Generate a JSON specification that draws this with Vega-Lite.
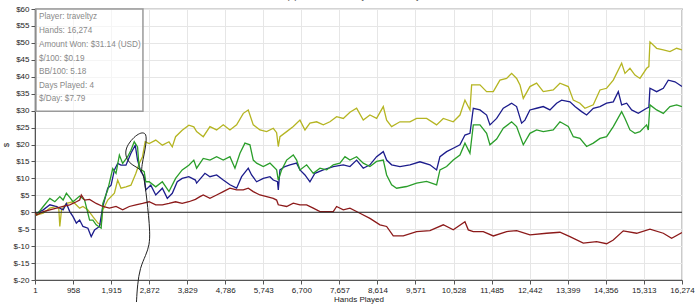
{
  "$schema": "https://vega.github.io/schema/vega-lite/v6.json",
  "width": 647,
  "height": 271,
  "autosize": {"type": "none"},
  "padding": {"left": 35, "top": 9, "right": 18, "bottom": 27},
  "background": "white",
  "title": {"text": "Amount Won ($) over Hands Played for traveltyz", "fontSize": 9, "font": "Liberation Sans", "fontWeight": "normal", "color": "#444", "offset": 4, "dx": -30},
  "config": {
    "view": {"stroke": "#555", "strokeWidth": 1.2},
    "axis": {
      "labelFont": "Liberation Sans", "labelFontSize": 8, "labelColor": "#222",
      "titleFont": "Liberation Sans", "titleFontSize": 8, "titleFontWeight": "normal", "titleColor": "#222",
      "gridColor": "#e6e6e6", "gridWidth": 1, "domainColor": "#555", "tickColor": "#555", "tickSize": 4, "labelPadding": 2
    }
  },
  "datasets": {
    "series": [
      {"s": "yellow", "h": 1, "v": 0}, {"s": "yellow", "h": 43, "v": -0.8}, {"s": "yellow", "h": 209, "v": -0.3}, {"s": "yellow", "h": 375, "v": 1.2}, {"s": "yellow", "h": 542, "v": 1.7}, {"s": "yellow", "h": 600, "v": 1.0}, {"s": "yellow", "h": 625, "v": -4.2}, {"s": "yellow", "h": 667, "v": 0.7}, {"s": "yellow", "h": 791, "v": 2.6}, {"s": "yellow", "h": 958, "v": 3.1}, {"s": "yellow", "h": 1124, "v": 1.2}, {"s": "yellow", "h": 1207, "v": 1.7}, {"s": "yellow", "h": 1332, "v": 0.7}, {"s": "yellow", "h": 1457, "v": -1.3}, {"s": "yellow", "h": 1582, "v": -3.2}, {"s": "yellow", "h": 1665, "v": -3.7}, {"s": "yellow", "h": 1707, "v": 0.7}, {"s": "yellow", "h": 1831, "v": 3.6}, {"s": "yellow", "h": 1998, "v": 5.6}, {"s": "yellow", "h": 2081, "v": 9.5}, {"s": "yellow", "h": 2164, "v": 7.1}, {"s": "yellow", "h": 2289, "v": 7.5}, {"s": "yellow", "h": 2414, "v": 8.0}, {"s": "yellow", "h": 2539, "v": 11.5}, {"s": "yellow", "h": 2622, "v": 14.4}, {"s": "yellow", "h": 2705, "v": 16.4}, {"s": "yellow", "h": 2772, "v": 20.8}, {"s": "yellow", "h": 2872, "v": 20.3}, {"s": "yellow", "h": 3038, "v": 21.3}, {"s": "yellow", "h": 3204, "v": 19.8}, {"s": "yellow", "h": 3371, "v": 20.8}, {"s": "yellow", "h": 3454, "v": 19.3}, {"s": "yellow", "h": 3537, "v": 22.3}, {"s": "yellow", "h": 3703, "v": 24.2}, {"s": "yellow", "h": 3870, "v": 25.7}, {"s": "yellow", "h": 3995, "v": 25.2}, {"s": "yellow", "h": 4066, "v": 23.8}, {"s": "yellow", "h": 4233, "v": 22.3}, {"s": "yellow", "h": 4401, "v": 25.3}, {"s": "yellow", "h": 4569, "v": 24.3}, {"s": "yellow", "h": 4736, "v": 25.8}, {"s": "yellow", "h": 4904, "v": 24.3}, {"s": "yellow", "h": 5072, "v": 25.8}, {"s": "yellow", "h": 5240, "v": 29.2}, {"s": "yellow", "h": 5365, "v": 30.2}, {"s": "yellow", "h": 5491, "v": 25.8}, {"s": "yellow", "h": 5659, "v": 24.3}, {"s": "yellow", "h": 5827, "v": 23.8}, {"s": "yellow", "h": 5994, "v": 24.8}, {"s": "yellow", "h": 6078, "v": 23.5}, {"s": "yellow", "h": 6120, "v": 19.4}, {"s": "yellow", "h": 6162, "v": 22.3}, {"s": "yellow", "h": 6330, "v": 23.8}, {"s": "yellow", "h": 6497, "v": 25.3}, {"s": "yellow", "h": 6665, "v": 27.2}, {"s": "yellow", "h": 6791, "v": 24.3}, {"s": "yellow", "h": 6916, "v": 26.3}, {"s": "yellow", "h": 7084, "v": 26.7}, {"s": "yellow", "h": 7252, "v": 25.8}, {"s": "yellow", "h": 7419, "v": 26.7}, {"s": "yellow", "h": 7587, "v": 28.2}, {"s": "yellow", "h": 7755, "v": 27.7}, {"s": "yellow", "h": 7922, "v": 29.5}, {"s": "yellow", "h": 8090, "v": 30.7}, {"s": "yellow", "h": 8257, "v": 27.2}, {"s": "yellow", "h": 8425, "v": 28.7}, {"s": "yellow", "h": 8593, "v": 27.7}, {"s": "yellow", "h": 8761, "v": 31.2}, {"s": "yellow", "h": 8845, "v": 27.2}, {"s": "yellow", "h": 8970, "v": 25.3}, {"s": "yellow", "h": 9180, "v": 26.7}, {"s": "yellow", "h": 9431, "v": 26.7}, {"s": "yellow", "h": 9599, "v": 27.7}, {"s": "yellow", "h": 9851, "v": 27.7}, {"s": "yellow", "h": 10102, "v": 25.8}, {"s": "yellow", "h": 10270, "v": 27.7}, {"s": "yellow", "h": 10521, "v": 26.7}, {"s": "yellow", "h": 10689, "v": 28.7}, {"s": "yellow", "h": 10815, "v": 33.1}, {"s": "yellow", "h": 10941, "v": 30.2}, {"s": "yellow", "h": 10983, "v": 37.6}, {"s": "yellow", "h": 11192, "v": 37.6}, {"s": "yellow", "h": 11360, "v": 35.6}, {"s": "yellow", "h": 11528, "v": 35.6}, {"s": "yellow", "h": 11695, "v": 39.0}, {"s": "yellow", "h": 11863, "v": 39.5}, {"s": "yellow", "h": 11989, "v": 41.0}, {"s": "yellow", "h": 12115, "v": 39.5}, {"s": "yellow", "h": 12199, "v": 37.6}, {"s": "yellow", "h": 12282, "v": 33.6}, {"s": "yellow", "h": 12449, "v": 37.1}, {"s": "yellow", "h": 12617, "v": 38.1}, {"s": "yellow", "h": 12785, "v": 35.6}, {"s": "yellow", "h": 13036, "v": 36.1}, {"s": "yellow", "h": 13204, "v": 38.1}, {"s": "yellow", "h": 13414, "v": 37.1}, {"s": "yellow", "h": 13540, "v": 33.1}, {"s": "yellow", "h": 13707, "v": 32.2}, {"s": "yellow", "h": 13833, "v": 30.7}, {"s": "yellow", "h": 14043, "v": 31.7}, {"s": "yellow", "h": 14211, "v": 36.1}, {"s": "yellow", "h": 14378, "v": 36.6}, {"s": "yellow", "h": 14546, "v": 39.0}, {"s": "yellow", "h": 14756, "v": 44.0}, {"s": "yellow", "h": 14840, "v": 41.0}, {"s": "yellow", "h": 14965, "v": 42.5}, {"s": "yellow", "h": 15091, "v": 40.5}, {"s": "yellow", "h": 15217, "v": 39.5}, {"s": "yellow", "h": 15384, "v": 42.5}, {"s": "yellow", "h": 15440, "v": 43.0}, {"s": "yellow", "h": 15468, "v": 50.3}, {"s": "yellow", "h": 15636, "v": 48.4}, {"s": "yellow", "h": 15804, "v": 47.9}, {"s": "yellow", "h": 15971, "v": 47.4}, {"s": "yellow", "h": 16139, "v": 48.4}, {"s": "yellow", "h": 16274, "v": 47.9},

      {"s": "blue", "h": 1, "v": 0}, {"s": "blue", "h": 43, "v": -0.3}, {"s": "blue", "h": 209, "v": 0.7}, {"s": "blue", "h": 375, "v": 2.2}, {"s": "blue", "h": 542, "v": 1.7}, {"s": "blue", "h": 708, "v": 0.7}, {"s": "blue", "h": 791, "v": 2.6}, {"s": "blue", "h": 875, "v": 0.2}, {"s": "blue", "h": 958, "v": -1.3}, {"s": "blue", "h": 1041, "v": -3.2}, {"s": "blue", "h": 1124, "v": -2.3}, {"s": "blue", "h": 1207, "v": -4.2}, {"s": "blue", "h": 1332, "v": -4.7}, {"s": "blue", "h": 1415, "v": -7.2}, {"s": "blue", "h": 1499, "v": -5.2}, {"s": "blue", "h": 1623, "v": -4.2}, {"s": "blue", "h": 1707, "v": 1.7}, {"s": "blue", "h": 1831, "v": 7.1}, {"s": "blue", "h": 1915, "v": 8.0}, {"s": "blue", "h": 1998, "v": 12.5}, {"s": "blue", "h": 2081, "v": 14.4}, {"s": "blue", "h": 2164, "v": 13.9}, {"s": "blue", "h": 2289, "v": 13.9}, {"s": "blue", "h": 2414, "v": 17.4}, {"s": "blue", "h": 2522, "v": 19.8}, {"s": "blue", "h": 2580, "v": 15.4}, {"s": "blue", "h": 2663, "v": 12.0}, {"s": "blue", "h": 2747, "v": 10.5}, {"s": "blue", "h": 2788, "v": 6.6}, {"s": "blue", "h": 2913, "v": 8.0}, {"s": "blue", "h": 3038, "v": 5.1}, {"s": "blue", "h": 3204, "v": 7.1}, {"s": "blue", "h": 3329, "v": 4.1}, {"s": "blue", "h": 3454, "v": 5.6}, {"s": "blue", "h": 3579, "v": 9.0}, {"s": "blue", "h": 3703, "v": 10.0}, {"s": "blue", "h": 3870, "v": 10.5}, {"s": "blue", "h": 4036, "v": 9.5}, {"s": "blue", "h": 4066, "v": 8.6}, {"s": "blue", "h": 4275, "v": 11.5}, {"s": "blue", "h": 4401, "v": 10.5}, {"s": "blue", "h": 4569, "v": 11.0}, {"s": "blue", "h": 4736, "v": 9.5}, {"s": "blue", "h": 4904, "v": 8.1}, {"s": "blue", "h": 5072, "v": 7.1}, {"s": "blue", "h": 5198, "v": 10.5}, {"s": "blue", "h": 5365, "v": 13.0}, {"s": "blue", "h": 5449, "v": 11.0}, {"s": "blue", "h": 5575, "v": 9.0}, {"s": "blue", "h": 5743, "v": 10.0}, {"s": "blue", "h": 5910, "v": 10.5}, {"s": "blue", "h": 5994, "v": 9.5}, {"s": "blue", "h": 6100, "v": 9.0}, {"s": "blue", "h": 6120, "v": 6.6}, {"s": "blue", "h": 6162, "v": 12.5}, {"s": "blue", "h": 6288, "v": 13.5}, {"s": "blue", "h": 6413, "v": 14.0}, {"s": "blue", "h": 6581, "v": 14.5}, {"s": "blue", "h": 6665, "v": 12.5}, {"s": "blue", "h": 6791, "v": 11.0}, {"s": "blue", "h": 6916, "v": 9.0}, {"s": "blue", "h": 7042, "v": 11.5}, {"s": "blue", "h": 7252, "v": 12.5}, {"s": "blue", "h": 7503, "v": 13.5}, {"s": "blue", "h": 7755, "v": 14.0}, {"s": "blue", "h": 7922, "v": 13.5}, {"s": "blue", "h": 8090, "v": 15.4}, {"s": "blue", "h": 8257, "v": 13.0}, {"s": "blue", "h": 8425, "v": 14.0}, {"s": "blue", "h": 8593, "v": 16.4}, {"s": "blue", "h": 8761, "v": 17.9}, {"s": "blue", "h": 8845, "v": 15.4}, {"s": "blue", "h": 8970, "v": 14.0}, {"s": "blue", "h": 9180, "v": 13.5}, {"s": "blue", "h": 9431, "v": 14.0}, {"s": "blue", "h": 9683, "v": 14.9}, {"s": "blue", "h": 9934, "v": 14.0}, {"s": "blue", "h": 10102, "v": 12.5}, {"s": "blue", "h": 10186, "v": 16.4}, {"s": "blue", "h": 10354, "v": 17.9}, {"s": "blue", "h": 10521, "v": 18.9}, {"s": "blue", "h": 10689, "v": 19.9}, {"s": "blue", "h": 10815, "v": 22.8}, {"s": "blue", "h": 10941, "v": 23.3}, {"s": "blue", "h": 11025, "v": 30.7}, {"s": "blue", "h": 11192, "v": 30.2}, {"s": "blue", "h": 11360, "v": 28.7}, {"s": "blue", "h": 11444, "v": 25.8}, {"s": "blue", "h": 11612, "v": 27.7}, {"s": "blue", "h": 11779, "v": 30.7}, {"s": "blue", "h": 11989, "v": 32.2}, {"s": "blue", "h": 12114, "v": 31.2}, {"s": "blue", "h": 12240, "v": 26.3}, {"s": "blue", "h": 12323, "v": 27.2}, {"s": "blue", "h": 12449, "v": 30.2}, {"s": "blue", "h": 12617, "v": 30.7}, {"s": "blue", "h": 12785, "v": 31.2}, {"s": "blue", "h": 12953, "v": 30.2}, {"s": "blue", "h": 13120, "v": 32.2}, {"s": "blue", "h": 13246, "v": 33.1}, {"s": "blue", "h": 13456, "v": 32.6}, {"s": "blue", "h": 13582, "v": 31.2}, {"s": "blue", "h": 13749, "v": 29.7}, {"s": "blue", "h": 13875, "v": 28.7}, {"s": "blue", "h": 14043, "v": 30.7}, {"s": "blue", "h": 14211, "v": 31.2}, {"s": "blue", "h": 14378, "v": 32.2}, {"s": "blue", "h": 14546, "v": 32.6}, {"s": "blue", "h": 14672, "v": 35.6}, {"s": "blue", "h": 14756, "v": 31.7}, {"s": "blue", "h": 14882, "v": 32.2}, {"s": "blue", "h": 15007, "v": 30.2}, {"s": "blue", "h": 15175, "v": 29.2}, {"s": "blue", "h": 15384, "v": 30.7}, {"s": "blue", "h": 15440, "v": 31.0}, {"s": "blue", "h": 15468, "v": 36.6}, {"s": "blue", "h": 15636, "v": 35.6}, {"s": "blue", "h": 15804, "v": 36.6}, {"s": "blue", "h": 15929, "v": 39.0}, {"s": "blue", "h": 16097, "v": 38.5}, {"s": "blue", "h": 16274, "v": 37.1},

      {"s": "green", "h": 1, "v": 0}, {"s": "green", "h": 43, "v": -0.8}, {"s": "green", "h": 209, "v": 1.7}, {"s": "green", "h": 375, "v": 4.1}, {"s": "green", "h": 500, "v": 3.1}, {"s": "green", "h": 625, "v": 4.6}, {"s": "green", "h": 708, "v": 3.6}, {"s": "green", "h": 791, "v": 5.6}, {"s": "green", "h": 875, "v": 4.4}, {"s": "green", "h": 958, "v": 3.1}, {"s": "green", "h": 1124, "v": 4.8}, {"s": "green", "h": 1249, "v": 3.6}, {"s": "green", "h": 1374, "v": -2.3}, {"s": "green", "h": 1457, "v": -2.3}, {"s": "green", "h": 1540, "v": -3.7}, {"s": "green", "h": 1665, "v": -4.7}, {"s": "green", "h": 1707, "v": 2.6}, {"s": "green", "h": 1831, "v": 6.6}, {"s": "green", "h": 1956, "v": 12.9}, {"s": "green", "h": 2039, "v": 11.5}, {"s": "green", "h": 2123, "v": 16.9}, {"s": "green", "h": 2206, "v": 14.4}, {"s": "green", "h": 2331, "v": 16.4}, {"s": "green", "h": 2414, "v": 18.3}, {"s": "green", "h": 2497, "v": 20.8}, {"s": "green", "h": 2580, "v": 19.3}, {"s": "green", "h": 2622, "v": 12.9}, {"s": "green", "h": 2747, "v": 12.0}, {"s": "green", "h": 2788, "v": 9.0}, {"s": "green", "h": 2872, "v": 9.0}, {"s": "green", "h": 3038, "v": 7.5}, {"s": "green", "h": 3204, "v": 9.0}, {"s": "green", "h": 3371, "v": 6.1}, {"s": "green", "h": 3537, "v": 10.0}, {"s": "green", "h": 3703, "v": 12.5}, {"s": "green", "h": 3870, "v": 13.9}, {"s": "green", "h": 3995, "v": 15.4}, {"s": "green", "h": 4066, "v": 13.0}, {"s": "green", "h": 4233, "v": 15.9}, {"s": "green", "h": 4401, "v": 15.4}, {"s": "green", "h": 4569, "v": 16.4}, {"s": "green", "h": 4736, "v": 15.4}, {"s": "green", "h": 4904, "v": 16.4}, {"s": "green", "h": 5030, "v": 13.0}, {"s": "green", "h": 5156, "v": 17.4}, {"s": "green", "h": 5281, "v": 20.4}, {"s": "green", "h": 5407, "v": 19.9}, {"s": "green", "h": 5491, "v": 15.4}, {"s": "green", "h": 5575, "v": 14.5}, {"s": "green", "h": 5743, "v": 13.5}, {"s": "green", "h": 5910, "v": 14.5}, {"s": "green", "h": 6078, "v": 12.5}, {"s": "green", "h": 6120, "v": 9.5}, {"s": "green", "h": 6204, "v": 12.5}, {"s": "green", "h": 6330, "v": 15.4}, {"s": "green", "h": 6497, "v": 16.9}, {"s": "green", "h": 6581, "v": 15.4}, {"s": "green", "h": 6665, "v": 12.5}, {"s": "green", "h": 6833, "v": 14.0}, {"s": "green", "h": 7000, "v": 11.5}, {"s": "green", "h": 7168, "v": 13.0}, {"s": "green", "h": 7336, "v": 12.5}, {"s": "green", "h": 7503, "v": 14.0}, {"s": "green", "h": 7671, "v": 14.5}, {"s": "green", "h": 7797, "v": 16.4}, {"s": "green", "h": 7922, "v": 15.4}, {"s": "green", "h": 8090, "v": 16.4}, {"s": "green", "h": 8257, "v": 14.5}, {"s": "green", "h": 8425, "v": 13.5}, {"s": "green", "h": 8593, "v": 15.0}, {"s": "green", "h": 8761, "v": 15.4}, {"s": "green", "h": 8845, "v": 11.0}, {"s": "green", "h": 8970, "v": 8.1}, {"s": "green", "h": 9096, "v": 7.1}, {"s": "green", "h": 9347, "v": 7.6}, {"s": "green", "h": 9599, "v": 8.6}, {"s": "green", "h": 9851, "v": 9.1}, {"s": "green", "h": 10102, "v": 8.1}, {"s": "green", "h": 10186, "v": 12.5}, {"s": "green", "h": 10354, "v": 13.5}, {"s": "green", "h": 10521, "v": 15.4}, {"s": "green", "h": 10689, "v": 16.9}, {"s": "green", "h": 10815, "v": 20.4}, {"s": "green", "h": 10941, "v": 17.4}, {"s": "green", "h": 11025, "v": 25.8}, {"s": "green", "h": 11192, "v": 25.8}, {"s": "green", "h": 11360, "v": 23.3}, {"s": "green", "h": 11444, "v": 19.9}, {"s": "green", "h": 11612, "v": 21.6}, {"s": "green", "h": 11779, "v": 24.8}, {"s": "green", "h": 11989, "v": 26.7}, {"s": "green", "h": 12114, "v": 25.3}, {"s": "green", "h": 12282, "v": 19.9}, {"s": "green", "h": 12449, "v": 23.3}, {"s": "green", "h": 12617, "v": 24.3}, {"s": "green", "h": 12785, "v": 23.8}, {"s": "green", "h": 13036, "v": 24.3}, {"s": "green", "h": 13204, "v": 26.7}, {"s": "green", "h": 13414, "v": 25.3}, {"s": "green", "h": 13540, "v": 22.3}, {"s": "green", "h": 13707, "v": 21.8}, {"s": "green", "h": 13875, "v": 19.4}, {"s": "green", "h": 14043, "v": 20.4}, {"s": "green", "h": 14211, "v": 21.8}, {"s": "green", "h": 14378, "v": 22.3}, {"s": "green", "h": 14546, "v": 25.3}, {"s": "green", "h": 14756, "v": 29.7}, {"s": "green", "h": 14840, "v": 27.7}, {"s": "green", "h": 14965, "v": 24.3}, {"s": "green", "h": 15091, "v": 23.3}, {"s": "green", "h": 15217, "v": 23.8}, {"s": "green", "h": 15384, "v": 25.8}, {"s": "green", "h": 15426, "v": 24.3}, {"s": "green", "h": 15468, "v": 31.7}, {"s": "green", "h": 15636, "v": 30.2}, {"s": "green", "h": 15804, "v": 29.2}, {"s": "green", "h": 15971, "v": 31.2}, {"s": "green", "h": 16139, "v": 31.7}, {"s": "green", "h": 16274, "v": 31.2},

      {"s": "red", "h": 1, "v": 0}, {"s": "red", "h": 43, "v": -0.8}, {"s": "red", "h": 209, "v": 0.2}, {"s": "red", "h": 375, "v": 0.7}, {"s": "red", "h": 542, "v": 1.2}, {"s": "red", "h": 708, "v": 1.7}, {"s": "red", "h": 875, "v": 2.2}, {"s": "red", "h": 1041, "v": 3.1}, {"s": "red", "h": 1124, "v": 3.6}, {"s": "red", "h": 1166, "v": 5.1}, {"s": "red", "h": 1249, "v": 3.6}, {"s": "red", "h": 1374, "v": 3.8}, {"s": "red", "h": 1540, "v": 2.6}, {"s": "red", "h": 1707, "v": 1.7}, {"s": "red", "h": 1873, "v": 1.2}, {"s": "red", "h": 2039, "v": 1.7}, {"s": "red", "h": 2206, "v": 0.7}, {"s": "red", "h": 2372, "v": 1.7}, {"s": "red", "h": 2539, "v": 2.2}, {"s": "red", "h": 2705, "v": 2.6}, {"s": "red", "h": 2872, "v": 3.1}, {"s": "red", "h": 3038, "v": 2.2}, {"s": "red", "h": 3204, "v": 2.2}, {"s": "red", "h": 3371, "v": 2.6}, {"s": "red", "h": 3537, "v": 3.1}, {"s": "red", "h": 3703, "v": 2.6}, {"s": "red", "h": 3870, "v": 3.1}, {"s": "red", "h": 4036, "v": 3.8}, {"s": "red", "h": 4150, "v": 4.6}, {"s": "red", "h": 4233, "v": 5.1}, {"s": "red", "h": 4401, "v": 4.1}, {"s": "red", "h": 4569, "v": 5.1}, {"s": "red", "h": 4736, "v": 6.1}, {"s": "red", "h": 4904, "v": 7.1}, {"s": "red", "h": 5072, "v": 6.6}, {"s": "red", "h": 5240, "v": 6.6}, {"s": "red", "h": 5365, "v": 7.1}, {"s": "red", "h": 5491, "v": 6.1}, {"s": "red", "h": 5659, "v": 5.1}, {"s": "red", "h": 5827, "v": 4.6}, {"s": "red", "h": 5994, "v": 4.1}, {"s": "red", "h": 6078, "v": 3.6}, {"s": "red", "h": 6120, "v": 2.2}, {"s": "red", "h": 6330, "v": 1.7}, {"s": "red", "h": 6497, "v": 2.7}, {"s": "red", "h": 6665, "v": 2.2}, {"s": "red", "h": 6833, "v": 2.2}, {"s": "red", "h": 7000, "v": 1.2}, {"s": "red", "h": 7168, "v": 0.2}, {"s": "red", "h": 7336, "v": 0.2}, {"s": "red", "h": 7503, "v": 0.2}, {"s": "red", "h": 7587, "v": 1.7}, {"s": "red", "h": 7755, "v": 0.7}, {"s": "red", "h": 7922, "v": 1.2}, {"s": "red", "h": 8174, "v": -0.3}, {"s": "red", "h": 8425, "v": -1.8}, {"s": "red", "h": 8677, "v": -3.7}, {"s": "red", "h": 8845, "v": -4.2}, {"s": "red", "h": 9012, "v": -7.0}, {"s": "red", "h": 9264, "v": -7.0}, {"s": "red", "h": 9599, "v": -5.7}, {"s": "red", "h": 9934, "v": -5.4}, {"s": "red", "h": 10270, "v": -3.7}, {"s": "red", "h": 10521, "v": -5.2}, {"s": "red", "h": 10815, "v": -2.8}, {"s": "red", "h": 10899, "v": -5.2}, {"s": "red", "h": 11025, "v": -5.7}, {"s": "red", "h": 11276, "v": -5.7}, {"s": "red", "h": 11528, "v": -7.0}, {"s": "red", "h": 11863, "v": -5.7}, {"s": "red", "h": 12115, "v": -5.4}, {"s": "red", "h": 12450, "v": -6.7}, {"s": "red", "h": 12869, "v": -6.2}, {"s": "red", "h": 13204, "v": -5.9}, {"s": "red", "h": 13455, "v": -7.2}, {"s": "red", "h": 13791, "v": -9.1}, {"s": "red", "h": 14126, "v": -8.7}, {"s": "red", "h": 14378, "v": -9.3}, {"s": "red", "h": 14546, "v": -8.2}, {"s": "red", "h": 14797, "v": -5.5}, {"s": "red", "h": 15133, "v": -6.2}, {"s": "red", "h": 15468, "v": -5.0}, {"s": "red", "h": 15804, "v": -6.2}, {"s": "red", "h": 16013, "v": -7.7}, {"s": "red", "h": 16274, "v": -6.0}
    ],
    "box": [{"h": 25, "h2": 2716, "v": 60, "v2": 29.8}],
    "info": [
      {"label": "Player: traveltyz", "h": 100, "v": 57.6},
      {"label": "Hands: 16,274", "h": 100, "v": 53.5},
      {"label": "Amount Won: $31.14 (USD)", "h": 100, "v": 49.5},
      {"label": "$/100: $0.19", "h": 100, "v": 45.3},
      {"label": "BB/100: 5.18", "h": 100, "v": 41.4},
      {"label": "Days Played: 4", "h": 100, "v": 37.3},
      {"label": "$/Day: $7.79", "h": 100, "v": 33.3}
    ],
    "scribble": [
      {"o": 1, "h": 2553, "v": -26.5}, {"o": 2, "h": 2578, "v": -21.4}, {"o": 3, "h": 2641, "v": -16.4}, {"o": 4, "h": 2792, "v": -12.6}, {"o": 5, "h": 2880, "v": -9.6}, {"o": 6, "h": 2892, "v": -5.8}, {"o": 7, "h": 2855, "v": -0.8}, {"o": 8, "h": 2817, "v": 3.6}, {"o": 9, "h": 2767, "v": 8.1}, {"o": 10, "h": 2716, "v": 11.9}, {"o": 11, "h": 2591, "v": 13.1}, {"o": 12, "h": 2440, "v": 14.0}, {"o": 13, "h": 2314, "v": 15.4}, {"o": 14, "h": 2264, "v": 17.8}, {"o": 15, "h": 2339, "v": 20.1}, {"o": 16, "h": 2490, "v": 22.2}, {"o": 17, "h": 2641, "v": 23.4}, {"o": 18, "h": 2742, "v": 23.5}, {"o": 19, "h": 2805, "v": 22.8}, {"o": 20, "h": 2792, "v": 19.9}, {"o": 21, "h": 2742, "v": 16.9}, {"o": 22, "h": 2691, "v": 14.0}, {"o": 23, "h": 2679, "v": 11.9}
    ]
  },
  "encoding": {
    "x": {"field": "h", "type": "quantitative", "scale": {"domain": [1, 16274], "nice": false, "zero": false},
      "axis": {"values": [1, 958, 1915, 2872, 3829, 4786, 5743, 6700, 7657, 8614, 9571, 10528, 11485, 12442, 13399, 14356, 15313, 16274], "labelExpr": "format(datum.value, ',')", "labelFlush": false, "title": "Hands Played", "titlePadding": 1}},
    "y": {"field": "v", "type": "quantitative", "scale": {"domain": [-20, 60], "nice": false, "zero": false},
      "axis": {"values": [-20, -15, -10, -5, 0, 5, 10, 15, 20, 25, 30, 35, 40, 45, 50, 55, 60], "labelExpr": "'$' + datum.value", "title": "$", "titlePadding": 2}}
  },
  "layer": [
    {
      "data": {"name": "series"},
      "mark": {"type": "line", "strokeWidth": 1.3, "clip": true},
      "encoding": {
        "color": {"field": "s", "type": "nominal", "legend": null,
          "scale": {"domain": ["yellow", "blue", "green", "red"], "range": ["#b5b522", "#1c1c8c", "#2a9e2a", "#8c1a1a"]}},
        "order": {"field": "h", "type": "quantitative"}
      }
    },
    {
      "data": {"values": [{"v": 0}]},
      "mark": {"type": "rule", "color": "#222", "strokeWidth": 1.2},
      "encoding": {"x": null}
    },
    {
      "data": {"name": "box"},
      "mark": {"type": "rect", "fill": "white", "fillOpacity": 0.6, "stroke": "#9a9a9a", "strokeWidth": 1.5},
      "encoding": {
        "x2": {"field": "h2"},
        "y2": {"field": "v2"}
      }
    },
    {
      "data": {"name": "info"},
      "mark": {"type": "text", "align": "left", "baseline": "middle", "font": "Liberation Sans", "fontSize": 8.2, "color": "#8a8a8a"},
      "encoding": {
        "text": {"field": "label"}
      }
    },
    {
      "data": {"name": "scribble"},
      "mark": {"type": "line", "color": "#222", "strokeWidth": 1, "interpolate": "basis"},
      "encoding": {
        "order": {"field": "o", "type": "quantitative"}
      }
    }
  ]
}
